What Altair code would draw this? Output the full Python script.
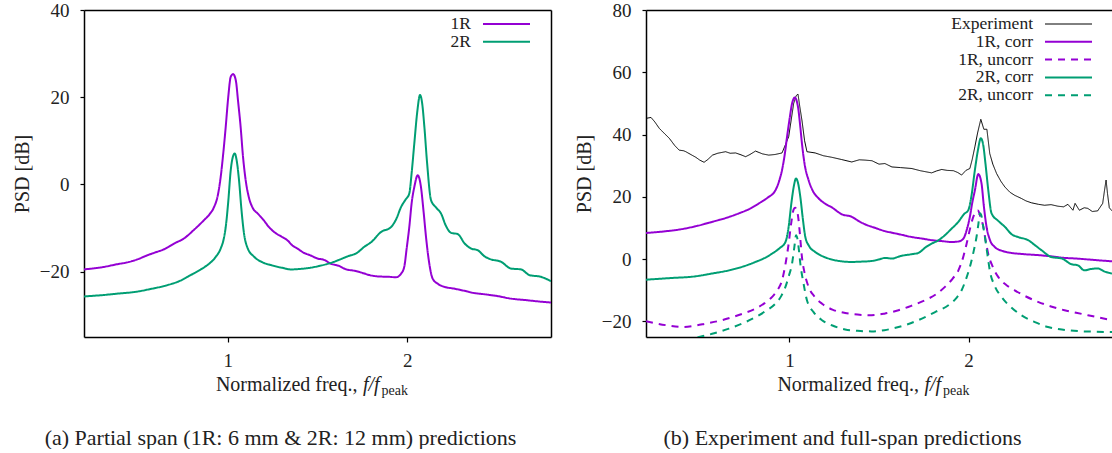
import altair as alt
import pandas as pd

FONT = "Liberation Serif"
INK = "#222222"
PURPLE = "#9400D3"
GREEN = "#009E73"

# ---------------- panel (a) data ----------------
a1r_f = [0.20, 0.30, 0.386, 0.45, 0.497, 0.55, 0.59, 0.65, 0.70, 0.76, 0.81, 0.868, 0.90, 0.924, 0.945,
         0.961, 0.975, 0.989, 1.003, 1.017, 1.03, 1.045, 1.058, 1.072, 1.085, 1.10, 1.118, 1.137, 1.17,
         1.20, 1.23, 1.258, 1.30, 1.332, 1.36, 1.388, 1.42, 1.462, 1.50, 1.536, 1.575, 1.62, 1.66, 1.705,
         1.75, 1.79, 1.835, 1.90, 1.937, 1.965, 1.983, 1.997, 2.011, 2.025, 2.039, 2.058, 2.076, 2.09,
         2.104, 2.12, 2.141, 2.17, 2.206, 2.26, 2.317, 2.37, 2.429, 2.50, 2.577, 2.65, 2.72, 2.80]
a1r_db = [-19.5, -19.0, -18.3, -17.8, -17.2, -16.3, -15.7, -14.8, -13.6, -12.3, -10.5, -8.2, -6.8, -5.2, -2.5,
          1.7, 7.0, 13.2, 20.0, 24.7, 25.3, 23.9, 19.0, 13.2, 6.5, 1.0, -3.0, -5.2, -6.8,
          -8.2, -9.8, -10.9, -12.0, -12.8, -14.0, -14.7, -15.6, -16.3, -17.0, -17.3, -18.2, -18.7, -19.5, -19.8,
          -20.3, -20.8, -21.1, -21.2, -21.3, -20.5, -18.9, -14.5, -9.8, -4.0, -0.6, 2.1, -0.6, -6.0,
          -12.0, -17.5, -21.6, -22.8, -23.5, -23.9, -24.4, -24.9, -25.2, -25.6, -26.2, -26.5, -26.8, -27.1]
a2r_f = [0.20, 0.30, 0.40, 0.478, 0.57, 0.664, 0.73, 0.794, 0.85, 0.887, 0.93, 0.961, 0.978, 0.989, 1.003,
         1.017, 1.030, 1.039, 1.050, 1.063, 1.076, 1.091, 1.11, 1.147, 1.19, 1.24, 1.30, 1.351, 1.40, 1.462,
         1.51, 1.55, 1.575, 1.62, 1.668, 1.72, 1.761, 1.80, 1.854, 1.909, 1.94, 1.965, 1.99, 2.011, 2.025,
         2.039, 2.055, 2.071, 2.083, 2.095, 2.11, 2.132, 2.16, 2.188, 2.215, 2.243, 2.281, 2.32, 2.355,
         2.392, 2.43, 2.466, 2.52, 2.577, 2.633, 2.68, 2.744, 2.80]
a2r_db = [-25.7, -25.4, -25.0, -24.7, -24.0, -23.1, -22.2, -20.8, -19.5, -18.5, -16.8, -14.7, -12.5, -9.8, -4.0,
          3.3, 6.5, 7.1, 5.5, 1.0, -5.5, -11.3, -14.5, -16.6, -17.8, -18.5, -19.1, -19.5, -19.4, -19.1,
          -18.7, -18.3, -18.0, -17.3, -16.5, -15.7, -14.3, -13.2, -10.9, -9.8, -7.8, -5.2, -3.5, -2.1, 3.0,
          9.4, 16.5, 20.5, 18.5, 13.2, 5.0, -3.6, -5.3, -6.7, -9.5, -11.1, -11.4, -13.6, -14.7,
          -15.1, -16.5, -17.2, -17.7, -19.3, -19.5, -20.8, -21.2, -22.2]

# ---------------- panel (b) data ----------------
exp_f = [0.20, 0.228, 0.25, 0.274, 0.30, 0.33, 0.36, 0.385, 0.41, 0.422, 0.45, 0.478, 0.50, 0.524, 0.545,
         0.571, 0.60, 0.644, 0.67, 0.70, 0.73, 0.756, 0.78, 0.811, 0.85, 0.885, 0.92, 0.959, 0.996, 1.024,
         1.038, 1.048, 1.058, 1.07, 1.085, 1.098, 1.144, 1.19, 1.237, 1.29, 1.348, 1.39, 1.422, 1.461, 1.50,
         1.533, 1.572, 1.62, 1.683, 1.73, 1.794, 1.82, 1.85, 1.88, 1.915, 1.94, 1.961, 1.985, 2.007, 2.02,
         2.035, 2.05, 2.068, 2.085, 2.102, 2.118, 2.135, 2.156, 2.18, 2.202, 2.23, 2.257, 2.294, 2.32, 2.35,
         2.39, 2.424, 2.46, 2.498, 2.53, 2.554, 2.582, 2.594, 2.618, 2.645, 2.665, 2.69, 2.72, 2.748, 2.758,
         2.767, 2.775, 2.785, 2.80]
exp_db = [45.2, 45.5, 44.0, 42.0, 40.5, 38.8, 36.5, 35.0, 34.8, 34.5, 33.6, 32.7, 31.8, 31.1, 32.0,
          33.4, 34.0, 34.5, 34.0, 34.1, 33.5, 32.9, 33.6, 34.7, 33.8, 33.4, 33.6, 34.1, 39.3, 50.0,
          52.5, 53.0, 49.0, 44.6, 38.0, 34.5, 34.1, 33.2, 32.7, 32.0, 31.2, 31.9, 31.8, 31.6, 30.5,
          30.7, 29.6, 29.4, 29.1, 28.4, 27.7, 28.3, 28.8, 28.5, 28.4, 27.8, 27.0, 28.5, 29.1, 32.0,
          36.1, 40.5, 44.9, 41.7, 41.7, 33.9, 30.5, 27.5, 25.0, 23.2, 21.5, 20.5, 19.5, 18.7, 18.1,
          17.6, 17.3, 17.5, 17.0, 16.8, 17.6, 15.7, 17.9, 15.7, 16.5, 16.3, 15.3, 15.5, 17.9, 22.0,
          25.4, 21.0, 16.5, 15.5]
b1c_f = [0.20, 0.30, 0.385, 0.48, 0.571, 0.65, 0.718, 0.78, 0.83, 0.88, 0.922, 0.945, 0.959, 0.975, 0.987,
         1.001, 1.015, 1.03, 1.048, 1.06, 1.07, 1.085, 1.107, 1.13, 1.163, 1.20, 1.237, 1.293, 1.348, 1.39,
         1.422, 1.48, 1.533, 1.572, 1.62, 1.683, 1.74, 1.794, 1.85, 1.906, 1.945, 1.971, 1.99, 2.007, 2.02,
         2.035, 2.054, 2.072, 2.085, 2.10, 2.12, 2.146, 2.19, 2.239, 2.31, 2.387, 2.46, 2.535, 2.60, 2.665,
         2.73, 2.80]
b1c_db = [8.4, 8.9, 9.5, 10.6, 12.0, 13.3, 14.7, 16.2, 17.9, 19.8, 22.1, 25.5, 28.6, 34.0, 39.3,
          45.0, 50.0, 51.9, 48.9, 43.0, 37.2, 30.5, 25.4, 22.0, 19.5, 17.8, 16.6, 14.4, 13.6, 12.1,
          11.2, 10.0, 9.0, 8.5, 7.9, 7.1, 6.6, 6.1, 5.8, 5.5, 5.7, 6.6, 9.5, 13.6, 18.0,
          22.1, 27.3, 24.3, 17.0, 10.4, 6.0, 3.9, 2.6, 2.0, 1.6, 1.3, 0.9, 0.4, 0.2, -0.1,
          -0.4, -0.7]
b1u_f = [0.20, 0.311, 0.404, 0.47, 0.533, 0.61, 0.682, 0.75, 0.811, 0.86, 0.904, 0.935, 0.959, 0.98, 0.996,
         1.01, 1.024, 1.032, 1.04, 1.048, 1.058, 1.07, 1.085, 1.107, 1.14, 1.182, 1.24, 1.311, 1.38, 1.459,
         1.53, 1.609, 1.68, 1.757, 1.82, 1.868, 1.91, 1.943, 1.969, 1.989, 2.008, 2.026, 2.044, 2.052, 2.064,
         2.082, 2.095, 2.109, 2.135, 2.165, 2.21, 2.257, 2.32, 2.387, 2.46, 2.535, 2.60, 2.665, 2.73, 2.80]
b1u_db = [-19.9, -21.2, -21.8, -21.4, -20.7, -19.8, -18.6, -17.3, -15.9, -14.2, -12.1, -9.8, -6.8, -1.0, 5.0,
          11.5, 16.0, 16.5, 15.8, 14.0, 8.5, 0.7, -4.5, -8.9, -12.0, -14.3, -16.2, -17.3, -17.8, -18.0,
          -17.5, -16.4, -15.0, -13.2, -11.2, -8.9, -6.3, -3.6, 0.5, 5.0, 9.8, 13.6, 15.5, 15.6, 14.0,
          10.4, 6.0, 1.8, -2.5, -5.7, -8.3, -10.0, -12.0, -13.7, -15.2, -16.4, -17.2, -18.0, -18.8, -19.6]
b2c_f = [0.20, 0.33, 0.478, 0.57, 0.663, 0.74, 0.811, 0.86, 0.904, 0.945, 0.978, 0.995, 1.011, 1.025, 1.037,
         1.048, 1.061, 1.075, 1.089, 1.11, 1.144, 1.19, 1.237, 1.29, 1.348, 1.40, 1.459, 1.50, 1.533, 1.572,
         1.62, 1.683, 1.72, 1.76, 1.794, 1.83, 1.868, 1.90, 1.943, 1.975, 1.998, 2.015, 2.035, 2.052, 2.068,
         2.082, 2.094, 2.11, 2.128, 2.165, 2.202, 2.24, 2.276, 2.332, 2.37, 2.406, 2.461, 2.52, 2.572, 2.61,
         2.646, 2.68, 2.72, 2.76, 2.80]
b2c_db = [-6.6, -6.1, -5.5, -4.6, -3.6, -2.4, -0.9, 0.3, 1.8, 3.5, 5.5, 10.0, 17.9, 23.5, 25.9,
          24.5, 20.0, 13.0, 7.1, 4.2, 2.3, 0.8, -0.1, -0.7, -0.9, -0.8, -0.6, -0.1, 0.4, 0.2,
          1.0, 1.6, 2.0, 3.8, 5.0, 6.0, 7.7, 9.5, 12.0, 14.5, 15.7, 20.0, 28.6, 35.0, 38.8,
          36.5, 30.7, 22.0, 14.7, 12.3, 10.4, 8.0, 7.1, 6.1, 4.5, 2.9, 0.7, 0.2, -1.6, -2.0,
          -3.6, -3.2, -3.0, -4.0, -4.6]
b2u_f = [0.20, 0.35, 0.496, 0.58, 0.663, 0.74, 0.811, 0.87, 0.922, 0.955, 0.978, 0.998, 1.015, 1.028, 1.037,
         1.045, 1.054, 1.061, 1.078, 1.098, 1.135, 1.182, 1.24, 1.311, 1.38, 1.459, 1.53, 1.609, 1.68, 1.757,
         1.82, 1.887, 1.93, 1.961, 1.985, 2.007, 2.028, 2.044, 2.055, 2.063, 2.07, 2.08, 2.091, 2.105, 2.118,
         2.145, 2.183, 2.24, 2.294, 2.37, 2.443, 2.52, 2.61, 2.70, 2.80]
b2u_db = [-27.5, -26.5, -25.0, -23.8, -22.3, -20.6, -18.6, -16.6, -14.3, -11.8, -8.9, -5.2, -1.4, 4.0, 7.7,
          6.5, 2.5, -1.4, -7.5, -13.2, -17.0, -19.6, -21.3, -22.6, -23.0, -23.2, -22.8, -21.8, -20.5, -18.6,
          -16.8, -14.8, -12.6, -10.0, -6.5, -2.5, 2.5, 7.1, 11.5, 14.7, 14.2, 11.0, 7.1, 1.5, -3.6,
          -8.5, -12.1, -15.6, -18.0, -20.2, -21.8, -22.6, -23.1, -23.3, -23.4]

x_ticks = [1, 2]
ya_ticks = [-20, 0, 20, 40]
yb_ticks = [-20, 0, 20, 40, 60, 80]
a_names = ["1R", "2R"]
b_names = ["Experiment", "1R, corr", "1R, uncorr", "2R, corr", "2R, uncorr"]
caption_a = "(a) Partial span (1R: 6 mm & 2R: 12 mm) predictions"
caption_b = "(b) Experiment and full-span predictions"
x_title_main = "Normalized freq.,"
x_title_var = "f/f"
x_title_sub = "peak"
y_title = "PSD [dB]"

H = 327


def frame(name, f, db):
    return pd.DataFrame({"f": f, "psd": db, "series": name})


def panel(model_df, exp_df, names, colors, dashes, widths, ydom, yticks, W, caption, right_border):
    xs = alt.Scale(domain=[0.2, 2.8], nice=False, zero=False)
    ys = alt.Scale(domain=ydom, nice=False, zero=False)
    cs = alt.Scale(domain=names, range=colors)
    ds = alt.Scale(domain=names, range=dashes)
    enc_style = dict(
        color=alt.Color("series:N", scale=cs, legend=None),
        strokeDash=alt.StrokeDash("series:N", scale=ds, legend=None),
    )
    layers = []
    if exp_df is not None:
        layers.append(
            alt.Chart(exp_df).mark_line(clip=True, interpolate="linear", strokeWidth=1).encode(
                x=alt.X("f:Q", scale=xs, axis=None),
                y=alt.Y("psd:Q", scale=ys, axis=None),
                **enc_style,
            )
        )
    layers.append(
        alt.Chart(model_df).mark_line(clip=True, interpolate="monotone", strokeWidth=2).encode(
            x=alt.X("f:Q", scale=xs, axis=alt.Axis(values=x_ticks, format="d", title=None,
                                                   tickSize=5, labelPadding=9)),
            y=alt.Y("psd:Q", scale=ys, axis=alt.Axis(values=yticks, title=y_title, tickSize=4,
                                                     labelPadding=11, titlePadding=7)),
            **enc_style,
        )
    )
    # top (and right) border drawn as domain-only axes
    border_y = (alt.Y("psd:Q", scale=ys, axis=alt.Axis(orient="right", labels=False, ticks=False, title=None))
                if right_border else alt.Y("psd:Q", scale=ys, axis=None))
    layers.append(
        alt.Chart(model_df).mark_line(opacity=0).encode(
            x=alt.X("f:Q", scale=xs, axis=alt.Axis(orient="top", labels=False, ticks=False, title=None)),
            y=border_y,
        )
    )
    # legend (label right, sample line on the right)
    for i, name in enumerate(names):
        ly = 14 + i * 17.8
        ldf = pd.DataFrame({"series": [name]})
        layers.append(
            alt.Chart(ldf).mark_text(align="right", baseline="middle", font=FONT, fontSize=17.5, color=INK).encode(
                x=alt.value(387), y=alt.value(ly), text="series:N")
        )
        layers.append(
            alt.Chart(ldf).mark_rule(strokeWidth=widths[i]).encode(
                x=alt.value(399), x2=alt.value(446), y=alt.value(ly), **enc_style)
        )
    # x-axis title with italic variable and subscript
    c = W / 2
    layers.append(
        alt.Chart(pd.DataFrame({"t": [x_title_main]})).mark_text(
            align="right", baseline="alphabetic", font=FONT, fontSize=20, color=INK).encode(
            x=alt.value(c + 40), y=alt.value(381), text="t:N")
    )
    layers.append(
        alt.Chart(pd.DataFrame({"t": [x_title_var]})).mark_text(
            align="left", baseline="alphabetic", font=FONT, fontSize=20, fontStyle="italic", color=INK).encode(
            x=alt.value(c + 45.5), y=alt.value(381), text="t:N")
    )
    layers.append(
        alt.Chart(pd.DataFrame({"t": [x_title_sub]})).mark_text(
            align="left", baseline="alphabetic", font=FONT, fontSize=14, color=INK).encode(
            x=alt.value(c + 64), y=alt.value(384.5), text="t:N")
    )
    # caption
    layers.append(
        alt.Chart(pd.DataFrame({"t": [caption]})).mark_text(
            align="center", baseline="alphabetic", font=FONT, fontSize=22, color=INK).encode(
            x=alt.value(196.5), y=alt.value(435), text="t:N")
    )
    return alt.layer(*layers).resolve_axis(x="independent", y="independent").properties(width=W, height=H)


df_a = pd.concat([frame("1R", a1r_f, a1r_db), frame("2R", a2r_f, a2r_db)], ignore_index=True)
left = panel(df_a, None, a_names, [PURPLE, GREEN], [[1, 0], [1, 0]], [2, 2],
             [-35, 40], ya_ticks, 467, caption_a, True)

df_b = pd.concat([frame("1R, corr", b1c_f, b1c_db), frame("1R, uncorr", b1u_f, b1u_db),
                  frame("2R, corr", b2c_f, b2c_db), frame("2R, uncorr", b2u_f, b2u_db)], ignore_index=True)
df_exp = frame("Experiment", exp_f, exp_db)
right = panel(df_b, df_exp, b_names, ["#000000", PURPLE, PURPLE, GREEN, GREEN],
              [[1, 0], [1, 0], [7, 6], [1, 0], [7, 6]], [1, 2, 2, 2, 2],
              [-25, 80], yb_ticks, 466, caption_b, False)

chart = alt.hconcat(left, right, spacing=23).resolve_scale(
    color="independent", strokeDash="independent"
).properties(
    padding={"left": 12, "top": 1, "right": 0, "bottom": 0},
    background="white",
).configure_view(stroke=None).configure_axis(
    labelFont=FONT, titleFont=FONT, labelColor=INK, titleColor=INK,
    labelFontSize=19, titleFontSize=20, titleFontWeight="normal",
    domainColor="black", tickColor="black", domainWidth=1.5, tickWidth=1.2, grid=False,
)

chart.save("out.html", embed_options={"renderer": "svg", "actions": False})
